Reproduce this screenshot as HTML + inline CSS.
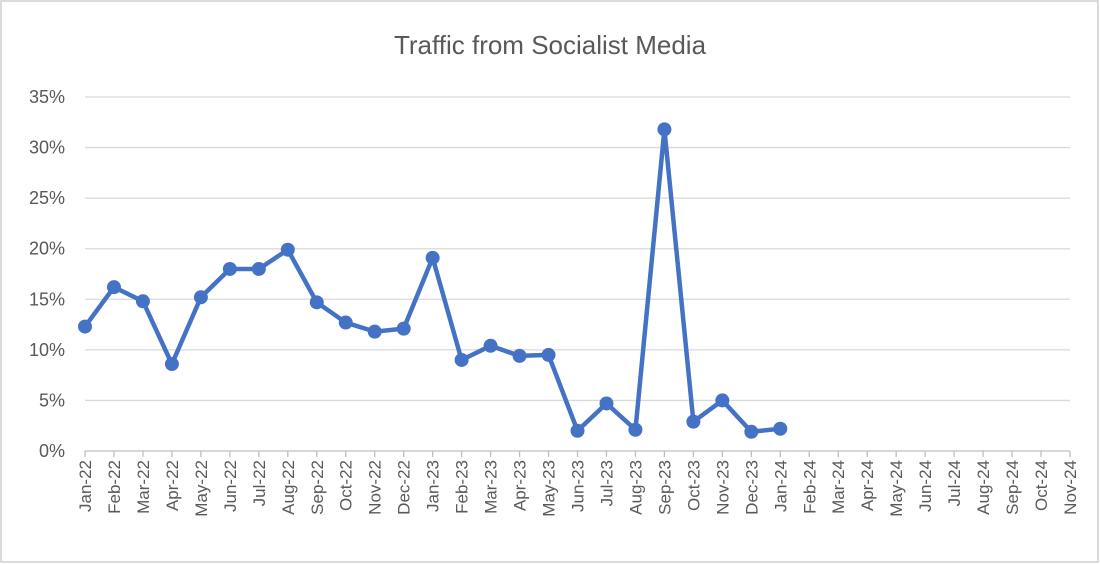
<!DOCTYPE html>
<html><head><meta charset="utf-8"><style>
body{margin:0;background:#fff;}
svg{display:block;font-family:"Liberation Sans",Arial,sans-serif;}
</style></head><body>
<svg id="chart" width="1100" height="564">
<rect x="1" y="1" width="1097" height="561" fill="#fff" stroke="#cfcfcf" stroke-width="1.5"/>
<text x="550" y="54" text-anchor="middle" font-size="26" fill="#595959">Traffic from Socialist Media</text>
<g id="grid"></g><g id="xlabels"></g><g id="ylabels"></g><g id="series"></g>
</svg>
<script>
const categories=["Jan-22","Feb-22","Mar-22","Apr-22","May-22","Jun-22","Jul-22","Aug-22","Sep-22","Oct-22","Nov-22","Dec-22","Jan-23","Feb-23","Mar-23","Apr-23","May-23","Jun-23","Jul-23","Aug-23","Sep-23","Oct-23","Nov-23","Dec-23","Jan-24","Feb-24","Mar-24","Apr-24","May-24","Jun-24","Jul-24","Aug-24","Sep-24","Oct-24","Nov-24"];
const values=[12.3,16.2,14.8,8.6,15.2,18.0,18.0,19.9,14.7,12.7,11.8,12.1,19.1,9.0,10.4,9.4,9.5,2.0,4.7,2.1,31.8,2.9,5.0,1.9,2.2];
const yTicks=[0,5,10,15,20,25,30,35];
const NS="http://www.w3.org/2000/svg";
const x0=85,x1=1070,y0=451,y1=97,yMax=35;
const xs=i=>x0+(x1-x0)*i/(categories.length-1);
const ys=v=>y0-(y0-y1)*v/yMax;
function mk(t,a,p){const e=document.createElementNS(NS,t);for(const k in a)e.setAttribute(k,a[k]);p.appendChild(e);return e;}
const grid=document.getElementById('grid'),yl=document.getElementById('ylabels'),xl=document.getElementById('xlabels'),s=document.getElementById('series');
yTicks.forEach(v=>{
 const l=mk('line',{x1:x0,x2:x1,y1:ys(v),y2:ys(v),stroke:v===0?'#bfbfbf':'#d9d9d9','stroke-width':1.3},grid);
 
 
 const t=mk('text',{x:65,y:ys(v)+6,'text-anchor':'end','font-size':18,fill:'#595959'},yl);
 t.textContent=v+'%';
 
 
});
categories.forEach((c,i)=>{
 const x=xs(i);
 const tk=mk('line',{x1:x,x2:x,y1:y0,y2:y0+6,stroke:'#bfbfbf','stroke-width':1.3},grid);
 
 
 const t=mk('text',{x:0,y:0,'text-anchor':'end','font-size':17,fill:'#595959',transform:`translate(${x+6},${y0+9}) rotate(-90)`},xl);
 t.textContent=c;
 
 
});
const pts=values.map((v,i)=>xs(i)+','+ys(v)).join(' ');
const pl=mk('polyline',{points:pts,fill:'none',stroke:'#4472c4','stroke-width':4.5,'stroke-linejoin':'round'},s);


values.forEach((v,i)=>{
 const c=mk('circle',{cx:xs(i),cy:ys(v),r:7,fill:'#4472c4'},s);
 
 
});
</script>
</body></html>
